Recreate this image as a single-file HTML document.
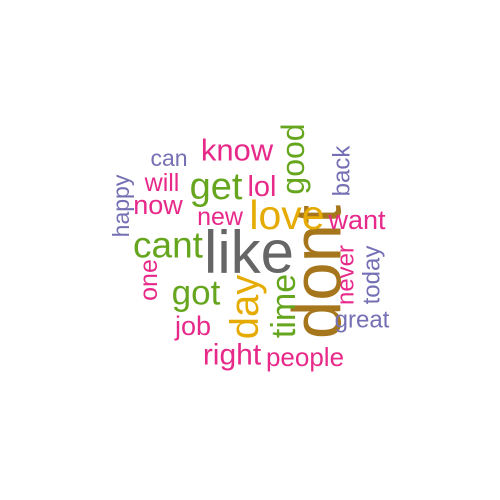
<!DOCTYPE html>
<html><head><meta charset="utf-8"><style>
html,body{margin:0;padding:0;background:#fff;width:500px;height:500px;overflow:hidden}
svg text{font-family:"Liberation Sans",Arial,sans-serif}
</style></head><body>
<svg id="cloud" width="500" height="500" viewBox="0 0 500 500"></svg>
<script>
const words=["like","dont","love","day","cant","get","got","good","time","know","lol","will","now","new","want","never","one","job","right","people","can","happy","back","today","great"];
const sizes=[60,69,41,40,37,38,35,32,34,31,29,25,27,25,27,24,25,27,30,26,23,23,24,24,24];
const colors=["#666666","#A6761D","#E6AB02","#E6AB02","#66A61E","#66A61E","#66A61E","#66A61E","#66A61E","#E7298A","#E7298A","#E7298A","#E7298A","#E7298A","#E7298A","#E7298A","#E7298A","#E7298A","#E7298A","#E7298A","#7570B3","#7570B3","#7570B3","#7570B3","#7570B3"];
const cx=[249,317,287,245,168,216,196,293,284,237,262,162,158,220,357,346,149,193,232,305,169,121,342,372,362];
const cy=[252,272,215,307,245,187,293,159,306,150,187,183,205,217,220,275,280,326,355,357,158,206,171,275,320];
const rot=[0,1,0,1,0,0,0,1,1,0,0,0,0,0,0,1,1,0,0,0,0,1,1,1,0];
const svg=document.getElementById('cloud');
words.forEach((w,i)=>{
  const t=document.createElementNS('http://www.w3.org/2000/svg','text');
  
  
  t.setAttribute('x',cx[i]);t.setAttribute('y',cy[i]);
  t.setAttribute('text-anchor','middle');
  t.setAttribute('dominant-baseline','central');
  t.setAttribute('font-size',sizes[i]);
  t.setAttribute('fill',colors[i]);
  if(rot[i])t.setAttribute('transform','rotate(-90 '+cx[i]+' '+cy[i]+')');
  t.textContent=w;
  svg.appendChild(t);
});
</script>
</body></html>
